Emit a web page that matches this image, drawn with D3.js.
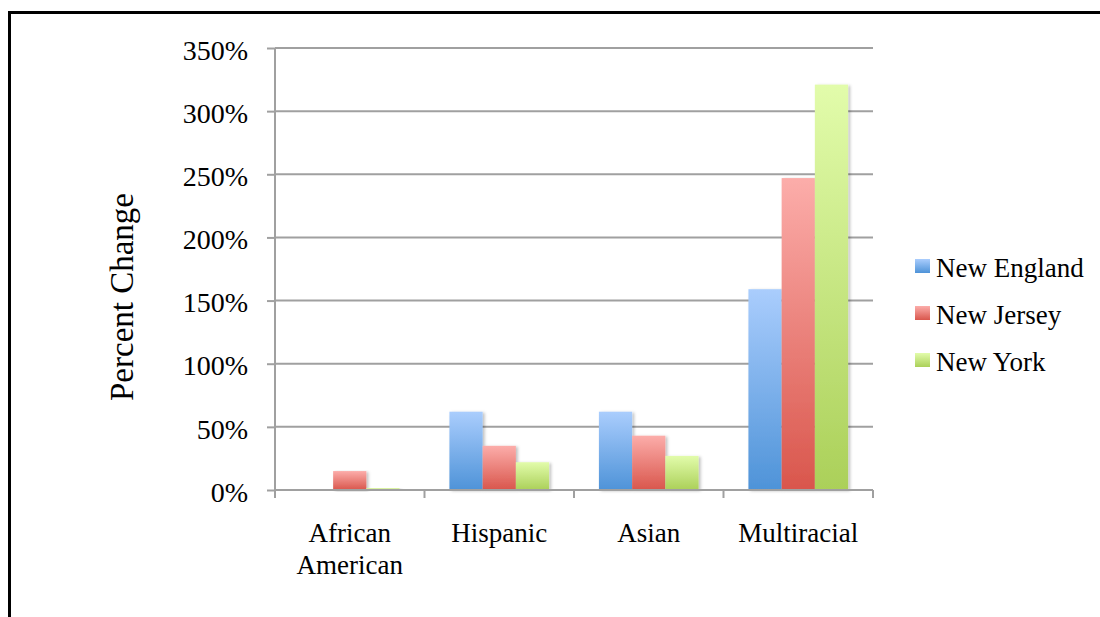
<!DOCTYPE html>
<html lang="en">
<head>
    <meta charset="UTF-8">
    <title>Percent Change by Group</title>
    <script src="https://d3js.org/d3.v7.min.js"></script>
    <style>
        body { margin: 0; background: #fff; }
        svg { display: block; font-family: "Liberation Serif", serif; }
        .tick text { fill: #000; }
    </style>
</head>
<body>
<svg id="chart" width="1100" height="617"></svg>
<script>
    // data
    const categories = ["African American", "Hispanic", "Asian", "Multiracial"];
    const series = ["New England", "New Jersey", "New York"];
    const newEngland = [0, 62, 62, 159];
    const newJersey = [15, 35, 43, 247];
    const newYork = [1.5, 22, 27, 321];
    const yTicks = [0, 50, 100, 150, 200, 250, 300, 350];

    const values = [newEngland, newJersey, newYork];
    const colors = [
        ["#aacdfd", "#4e93d8"],
        ["#fcadaa", "#d9564c"],
        ["#e2fcab", "#abd059"]
    ];

    const svg = d3.select("#chart");
    const margin = { left: 275, right: 227, top: 48, bottom: 127 };
    const width = 1100 - margin.left - margin.right;
    const height = 617 - margin.top - margin.bottom;

    // frame
    svg.append("path")
        .attr("d", "M9.5,617 V12.5 H1100")
        .attr("fill", "none")
        .attr("stroke", "#000")
        .attr("stroke-width", 3);

    const defs = svg.append("defs");
    colors.forEach((c, i) => {
        const g = defs.append("linearGradient")
            .attr("id", "grad" + i)
            .attr("x1", 0).attr("y1", 0).attr("x2", 0).attr("y2", 1);
        g.append("stop").attr("offset", "0%").attr("stop-color", c[0]);
        g.append("stop").attr("offset", "100%").attr("stop-color", c[1]);
    });
    defs.append("filter").attr("id", "shadow")
        .attr("x", "-20%").attr("y", "-5%").attr("width", "150%").attr("height", "115%")
        .append("feDropShadow")
        .attr("dx", 2).attr("dy", 1).attr("stdDeviation", 1.5)
        .attr("flood-color", "#000").attr("flood-opacity", 0.25);

    const g = svg.append("g").attr("transform", `translate(${margin.left},${margin.top})`);

    const x = d3.scaleBand().domain(categories).range([0, width]).paddingInner(0).paddingOuter(0);
    const x1 = d3.scaleBand().domain(series).range([0, x.bandwidth()]).paddingOuter(0.75).paddingInner(0);
    const y = d3.scaleLinear().domain([0, 350]).range([height, 0]);

    // gridlines
    g.append("g")
        .selectAll("line")
        .data(yTicks.slice(1))
        .join("line")
        .attr("x1", 0).attr("x2", width)
        .attr("y1", d => y(d)).attr("y2", d => y(d))
        .attr("stroke", "#a0a0a0")
        .attr("stroke-width", 2);

    // bars
    const group = g.append("g")
        .selectAll("g")
        .data(categories)
        .join("g")
        .attr("transform", d => `translate(${x(d)},0)`);

    group.selectAll("rect")
        .data((d, ci) => series.map((s, si) => ({ s, si, v: values[si][ci] })).filter(d => d.v > 0))
        .join("rect")
        .attr("x", d => x1(d.s))
        .attr("width", x1.bandwidth())
        .attr("y", d => y(d.v))
        .attr("height", d => y(0) - y(d.v))
        .attr("fill", d => `url(#grad${d.si})`)
        .attr("filter", "url(#shadow)");

    // y axis
    const yAxis = g.append("g")
        .call(d3.axisLeft(y).tickValues(yTicks).tickFormat(d => d + "%").tickSize(8).tickPadding(19));
    yAxis.select(".domain").remove();
    yAxis.selectAll(".tick line").attr("stroke", "#a0a0a0").attr("stroke-width", 2);
    yAxis.selectAll(".tick text")
        .attr("font-size", 28)
        .attr("font-family", "Liberation Serif")
        .attr("dy", "0.4em");
    yAxis.append("line")
        .attr("x1", 0).attr("x2", 0).attr("y1", 0).attr("y2", height + 8)
        .attr("stroke", "#a0a0a0").attr("stroke-width", 2);

    // x axis
    const xAxis = g.append("g").attr("transform", `translate(0,${height})`);
    xAxis.append("line")
        .attr("x1", 0).attr("x2", width)
        .attr("stroke", "#a0a0a0").attr("stroke-width", 2);
    xAxis.selectAll(".cat-tick")
        .data(d3.range(1, categories.length + 1))
        .join("line")
        .attr("class", "cat-tick")
        .attr("x1", d => d * x.bandwidth()).attr("x2", d => d * x.bandwidth())
        .attr("y1", 0).attr("y2", 8)
        .attr("stroke", "#a0a0a0").attr("stroke-width", 2);

    const labels = xAxis.selectAll(".cat-label")
        .data(categories)
        .join("text")
        .attr("class", "cat-label")
        .attr("text-anchor", "middle")
        .attr("font-size", 27)
        .attr("x", d => x(d) + x.bandwidth() / 2)
        .attr("y", 52);
    labels.each(function (d) {
        const words = d.split(" ");
        d3.select(this).selectAll("tspan")
            .data(words)
            .join("tspan")
            .attr("x", x(d) + x.bandwidth() / 2)
            .attr("dy", (w, i) => i === 0 ? 0 : 32)
            .text(w => w);
    });

    // y title
    svg.append("text")
        .attr("transform", "translate(133,297) rotate(-90)")
        .attr("text-anchor", "middle")
        .attr("font-size", 33)
        .text("Percent Change");

    // legend
    const legend = svg.append("g").attr("transform", "translate(915,259)");
    const item = legend.selectAll("g")
        .data(series)
        .join("g")
        .attr("transform", (d, i) => `translate(0,${i * 47})`);
    item.append("rect")
        .attr("width", 15).attr("height", 14)
        .attr("fill", (d, i) => `url(#grad${i})`);
    item.append("text")
        .attr("x", 21).attr("y", 18)
        .attr("font-size", 27)
        .text(d => d);
</script>
</body>
</html>
